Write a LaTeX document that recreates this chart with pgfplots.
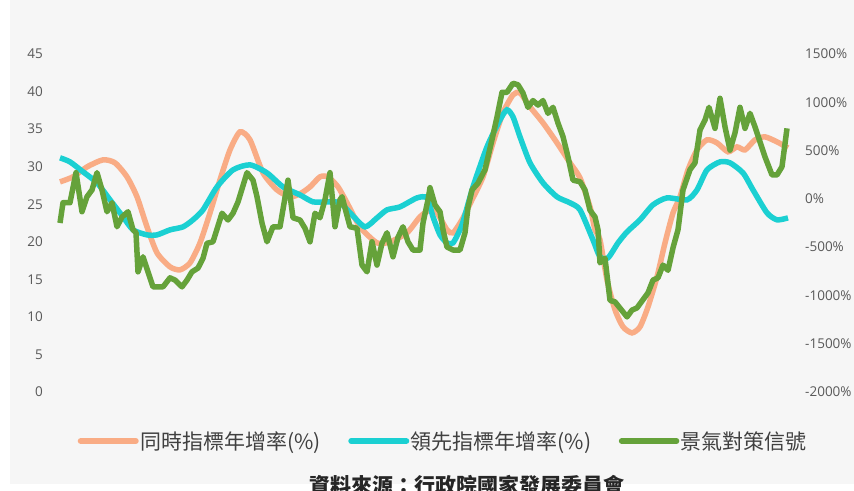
\documentclass[border=0pt]{standalone}
\usepackage{pgfplots}
\pgfplotsset{compat=1.18}
\usepackage{fontspec}
\setmainfont{Open Sans}
\newfontfamily\cjk{Noto Sans CJK TC}
\definecolor{bg}{HTML}{F6F6F6}
\definecolor{cOrange}{HTML}{F9AC85}
\definecolor{cCyan}{HTML}{1BD0D2}
\definecolor{cGreen}{HTML}{65A23A}
\definecolor{tickc}{HTML}{595959}

% coincident index (%)
\pgfplotstableread{
x y
60 176
73 228
87 331
103 404
115 373
127 228
137 21
147 -290
157 -559
170 -704
180 -735
190 -663
200 -456
210 -145
220 197
230 507
240 694
250 611
263 269
277 93
290 21
300 52
310 124
320 228
328 228
338 124
347 -41
360 -290
377 -456
390 -445
407 -352
420 -186
430 -114
437 -145
447 -321
453 -352
462 -217
472 -10
483 228
493 580
503 891
513 1077
520 1098
530 953
543 787
557 580
570 373
580 217
590 -83
595 -321
600 -425
607 -839
615 -1149
623 -1325
632 -1388
640 -1325
648 -1118
657 -808
665 -456
673 -145
680 21
688 300
697 507
707 611
717 580
728 487
737 538
745 507
755 611
765 642
777 590
788 528
}\coincident

% leading index (%)
\pgfplotstableread{
x y
60 425
70 383
83 280
97 166
110 -10
123 -186
133 -321
147 -373
157 -373
170 -321
183 -290
193 -217
203 -114
217 124
233 300
250 352
267 269
283 124
300 41
313 -31
327 -31
340 -41
352 -166
365 -290
377 -197
387 -114
400 -83
417 10
427 10
433 -186
440 -373
447 -456
453 -456
462 -269
473 124
487 538
500 818
507 922
513 849
520 642
530 373
543 166
557 21
570 -41
580 -114
593 -425
600 -601
608 -611
618 -456
627 -342
640 -217
653 -62
667 10
687 -10
697 93
707 300
720 383
730 373
743 269
753 93
767 -145
777 -217
788 -197
}\leading

% monitoring indicator score
\pgfplotstableread{
x y
60 22.5
63 25.2
70 25.2
76 29.2
82 24.0
87 26.0
92 26.9
97 29.2
102 26.9
107 24.0
112 25.2
117 22.0
122 23.3
128 24.0
133 21.6
136 21.2
138 16.0
143 18.0
153 14.0
163 14.0
170 15.2
175 14.9
182 14.0
187 14.9
192 16.0
198 16.5
203 17.8
207 19.8
213 20.0
222 23.8
228 22.9
233 23.8
238 25.3
247 29.2
253 28.2
257 26.0
262 22.5
267 20.0
273 22.0
280 22.0
288 28.2
293 23.2
300 22.9
305 21.8
310 20.0
315 23.8
320 23.2
325 25.6
330 29.2
335 22.0
340 25.6
342 26.0
350 22.0
357 21.8
362 16.9
367 16.0
372 20.0
377 16.9
382 19.8
387 21.2
393 18.0
398 20.6
403 22.0
408 20.0
413 18.9
420 18.9
423 22.5
428 25.6
430 27.2
435 24.9
440 24.0
443 21.6
447 19.3
453 18.9
460 18.9
465 21.2
468 24.6
472 26.9
478 27.8
485 29.6
492 33.6
497 36.6
502 39.9
507 39.9
513 41.1
518 40.9
523 39.8
528 37.9
533 38.8
538 38.2
543 38.8
548 37.1
553 37.9
558 35.8
563 34.0
568 31.3
573 28.2
580 28.0
585 26.9
590 24.2
595 23.3
598 21.6
600 17.2
605 17.8
610 12.2
615 12.0
627 10.0
632 10.9
637 11.2
648 13.2
653 14.9
658 15.2
663 16.9
668 16.2
673 19.2
678 21.6
683 26.9
690 29.6
695 30.5
700 34.9
705 36.2
709 37.9
715 35.1
720 39.1
725 35.3
730 32.2
735 34.5
740 37.9
745 35.1
750 37.1
755 35.3
760 33.3
765 31.3
772 28.9
777 28.9
782 30.0
787 35.1
}\signal

\begin{document}
\begin{tikzpicture}[x=1pt,y=1pt]
\useasboundingbox (0,0) rectangle (854,490);
\fill[white] (0,0) rectangle (854,490);
\fill[bg] (10,6) rectangle (854,490);

\pgfplotsset{
  base/.style={
    at={(60pt,98pt)}, anchor=south west,
    scale only axis, width=730pt, height=338pt,
    xmin=60, xmax=790,
    axis x line=none,
    axis line style={draw=none},
    major tick length=0pt,
    clip=false,
    tick label style={font=\fontsize{13.5}{16}\selectfont, text=tickc},
    /pgf/number format/assume math mode=true,
    /pgf/number format/1000 sep={},
  }
}

\begin{axis}[base,
  axis y line*=right,
  ymin=-2000, ymax=1500,
  ytick={-2000,-1500,-1000,-500,0,500,1000,1500},
  yticklabel={\pgfmathprintnumber{\tick}\%},
  yticklabel style={anchor=west, inner sep=0pt, xshift=15pt},
]
\addplot[cOrange, line width=5.5pt, smooth, tension=0.4] table[x=x,y=y] {\coincident};
\addplot[cCyan, line width=5.5pt, smooth, tension=0.4] table[x=x,y=y] {\leading};
\end{axis}

\begin{axis}[base,
  axis y line*=left,
  ymin=0, ymax=45,
  ytick={0,5,...,45},
  yticklabel style={anchor=east, inner sep=0pt, xshift=-17pt},
  legend columns=3,
  legend style={at={(0.5247,-0.145)}, anchor=center, draw=none, fill=none,
    font=\cjk\fontsize{21}{25}\selectfont, text=black!75,
    /tikz/every even column/.append style={column sep=26pt},
    nodes={inner sep=1.5pt}},
  legend image code/.code={\draw[#1, line cap=round] (0pt,0pt) -- (55pt,0pt);},
]
\addlegendimage{cOrange, line width=6pt}
\addlegendentry{同時指標年增率(\%)}
\addlegendimage{cCyan, line width=6pt}
\addlegendentry{領先指標年增率(\%)}
\addplot[cGreen, line width=5.5pt, line join=round] table[x=x,y=y] {\signal};
\addlegendentry{景氣對策信號}
\end{axis}

\node[font=\cjk\bfseries\fontsize{21}{25}\selectfont, text=black!85] at (467,5) {資料來源：行政院國家發展委員會};
\end{tikzpicture}
\end{document}
